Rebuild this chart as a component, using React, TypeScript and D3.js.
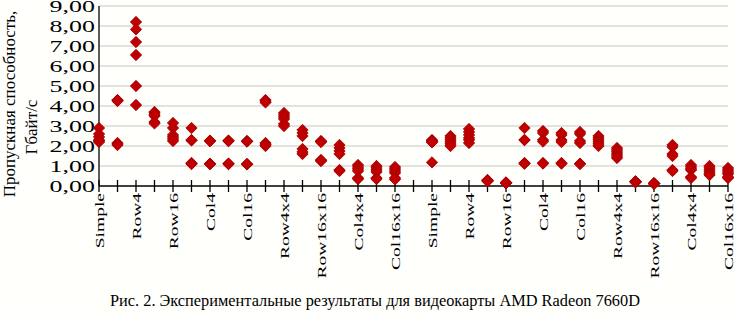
import React from "react";
import * as d3 from "d3";

const groupCategories = ["Simple","Row2","Row4","Row8","Row16","Col2","Col4","Col8","Col16","Row2x2","Row4x4","Row8x8","Row16x16","Col2x2","Col4x4","Col8x8","Col16x16"];
const categories = [...groupCategories, "", ...groupCategories];

const series1 = [2.9,4.3,8.2,3.7,3.15,2.9,2.27,2.27,2.25,4.3,3.65,2.8,2.25,2.05,1.05,1.0,0.95,null,2.3,2.5,2.85,0.3,0.18,2.9,2.75,2.65,2.7,2.5,1.9,0.23,0.14,2.05,1.05,1.0,0.9];
const series2 = [2.6,4.28,7.83,3.65,2.9,2.3,2.25,2.25,2.23,4.25,3.55,2.65,2.22,1.9,0.95,0.9,0.85,null,2.25,2.4,2.7,0.28,0.17,2.3,2.65,2.55,2.6,2.4,1.8,0.22,0.13,1.95,0.95,0.9,0.8];
const series3 = [2.45,4.25,7.2,3.55,2.55,2.28,2.25,2.25,2.22,4.18,3.45,2.5,2.2,1.75,0.85,0.8,0.75,null,2.22,2.3,2.55,0.27,0.16,2.3,2.3,2.3,2.25,2.3,1.7,0.21,0.13,1.6,0.85,0.8,0.7];
const series4 = [2.3,2.15,6.55,3.5,2.45,1.15,1.12,1.12,1.1,2.15,3.35,1.85,1.3,1.6,0.75,0.7,0.65,null,2.2,2.2,2.4,0.26,0.15,1.15,2.22,2.2,2.15,2.2,1.6,0.2,0.12,1.5,0.8,0.7,0.6];
const series5 = [2.25,2.1,5.0,3.2,2.35,1.12,1.1,1.1,1.08,2.08,3.1,1.7,1.27,0.8,0.4,0.4,0.4,null,2.18,2.1,2.3,0.25,0.15,1.13,1.15,1.15,1.12,2.1,1.5,0.2,0.12,0.8,0.45,0.6,0.45];
const series6 = [2.2,2.05,4.05,3.13,2.25,1.1,1.1,1.1,1.08,2.0,3.0,1.6,1.25,0.75,0.35,0.35,0.33,null,1.18,2.0,2.15,0.24,0.14,1.12,1.12,1.12,1.1,2.0,1.4,0.19,0.11,0.75,0.4,0.55,0.4];
const allSeries = [series1, series2, series3, series4, series5, series6];

const yTicks = [0,1,2,3,4,5,6,7,8,9];
const yTitle1 = "Пропускная способность,";
const yTitle2 = "Гбайт/с";
const caption = "Рис. 2. Экспериментальные результаты для видеокарты AMD Radeon 7660D";

const W = 736, H = 318;
const FONT = "Liberation Serif, Times New Roman, serif";

export default function App() {
  const idx = categories.map((_, i) => String(i));
  const x = d3.scalePoint<string>().domain(idx).range([99, 728]);
  const y = d3.scaleLinear().domain([0, 9]).range([186, 6]);
  const diamond = d3.symbol().type(d3.symbolSquare).size(64)()!;
  const fmt = (v: number) => v.toFixed(2).replace(".", ",");

  return (
    <svg width={W} height={H} style={{ position: "absolute", left: 0, top: 0, background: "#fffffc" }} fontFamily={FONT}>
      <rect x={0} y={0} width={W} height={H} fill="#fffffc" />
      {yTicks.filter(t => t > 0).map(t => (
        <line key={"g" + t} x1={99} x2={728} y1={y(t)} y2={y(t)} stroke="#d9d9d9" strokeWidth={1.3} />
      ))}
      {yTicks.map(t => (
        <text key={"yt" + t} transform={`translate(95,${y(t)}) scale(1.5,1)`} textAnchor="end" dy="0.36em" fontSize={17.3} fill="#000">{fmt(t)}</text>
      ))}
      <line x1={99} x2={99} y1={y(9)} y2={y(0)} stroke="#000" strokeWidth={1.3} />
      <line x1={99} x2={728} y1={y(0)} y2={y(0)} stroke="#000" strokeWidth={1.3} />
      {idx.map(i => (
        <line key={"t" + i} x1={x(i)!} x2={x(i)!} y1={y(0) - 6} y2={y(0) + 6} stroke="#000" strokeWidth={1.3} />
      ))}
      {categories.map((c, i) => (i % 2 === 0 && c ? (
        <text key={"xl" + i} transform={`translate(${x(String(i))! + 4.5},193) rotate(-90) scale(1.5,1)`} textAnchor="end" fontSize={13} fill="#000">{c}</text>
      ) : null))}
      {allSeries.map((s, si) => (
        <g key={"s" + si}>
          {s.map((v, i) => v == null ? null : (
            <path key={i} d={diamond} transform={`translate(${x(String(i))},${y(v)}) rotate(45)`} fill="#c00000" stroke="#a80000" strokeWidth={0.8} />
          ))}
        </g>
      ))}
      <text transform={`translate(15,104) rotate(-90)`} textAnchor="middle" fontSize={17} fill="#000">{yTitle1}</text>
      <text transform={`translate(37,127) rotate(-90)`} textAnchor="middle" fontSize={17} fill="#000">{yTitle2}</text>
      <text x={375} y={306} textAnchor="middle" fontSize={16.5} textLength={530} lengthAdjust="spacingAndGlyphs" fill="#000">{caption}</text>
    </svg>
  );
}
